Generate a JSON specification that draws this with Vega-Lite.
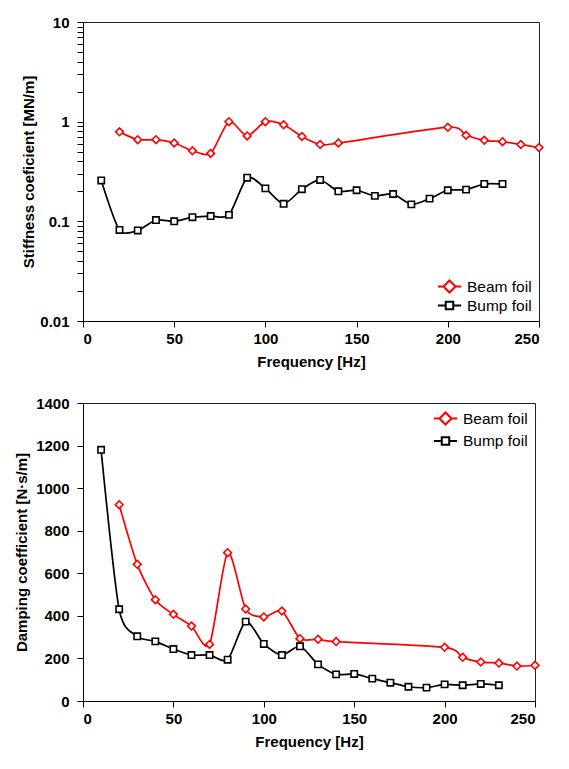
{
  "$schema": "https://vega.github.io/schema/vega-lite/v6.json",
  "padding": {"left": 14, "top": 14, "right": 5, "bottom": 5},
  "background": "white",
  "spacing": 25,
  "datasets": {
    "stiffness": [
      {"f": 20, "v": 0.79, "s": "Beam foil"},
      {"f": 30, "v": 0.66, "s": "Beam foil"},
      {"f": 40, "v": 0.66, "s": "Beam foil"},
      {"f": 50, "v": 0.61, "s": "Beam foil"},
      {"f": 60, "v": 0.51, "s": "Beam foil"},
      {"f": 70, "v": 0.48, "s": "Beam foil"},
      {"f": 80, "v": 1.0, "s": "Beam foil"},
      {"f": 90, "v": 0.72, "s": "Beam foil"},
      {"f": 100, "v": 1.0, "s": "Beam foil"},
      {"f": 110, "v": 0.93, "s": "Beam foil"},
      {"f": 120, "v": 0.71, "s": "Beam foil"},
      {"f": 130, "v": 0.59, "s": "Beam foil"},
      {"f": 140, "v": 0.61, "s": "Beam foil"},
      {"f": 200, "v": 0.88, "s": "Beam foil"},
      {"f": 210, "v": 0.73, "s": "Beam foil"},
      {"f": 220, "v": 0.65, "s": "Beam foil"},
      {"f": 230, "v": 0.63, "s": "Beam foil"},
      {"f": 240, "v": 0.59, "s": "Beam foil"},
      {"f": 250, "v": 0.55, "s": "Beam foil"},
      {"f": 10, "v": 0.257, "s": "Bump foil"},
      {"f": 20, "v": 0.082, "s": "Bump foil"},
      {"f": 30, "v": 0.081, "s": "Bump foil"},
      {"f": 40, "v": 0.103, "s": "Bump foil"},
      {"f": 50, "v": 0.1, "s": "Bump foil"},
      {"f": 60, "v": 0.11, "s": "Bump foil"},
      {"f": 70, "v": 0.113, "s": "Bump foil"},
      {"f": 80, "v": 0.116, "s": "Bump foil"},
      {"f": 90, "v": 0.274, "s": "Bump foil"},
      {"f": 100, "v": 0.214, "s": "Bump foil"},
      {"f": 110, "v": 0.15, "s": "Bump foil"},
      {"f": 120, "v": 0.21, "s": "Bump foil"},
      {"f": 130, "v": 0.26, "s": "Bump foil"},
      {"f": 140, "v": 0.2, "s": "Bump foil"},
      {"f": 150, "v": 0.205, "s": "Bump foil"},
      {"f": 160, "v": 0.18, "s": "Bump foil"},
      {"f": 170, "v": 0.188, "s": "Bump foil"},
      {"f": 180, "v": 0.148, "s": "Bump foil"},
      {"f": 190, "v": 0.169, "s": "Bump foil"},
      {"f": 200, "v": 0.205, "s": "Bump foil"},
      {"f": 210, "v": 0.208, "s": "Bump foil"},
      {"f": 220, "v": 0.237, "s": "Bump foil"},
      {"f": 230, "v": 0.237, "s": "Bump foil"}
    ],
    "damping": [
      {"f": 20, "v": 922, "s": "Beam foil"},
      {"f": 30, "v": 642, "s": "Beam foil"},
      {"f": 40, "v": 476, "s": "Beam foil"},
      {"f": 50, "v": 407, "s": "Beam foil"},
      {"f": 60, "v": 352, "s": "Beam foil"},
      {"f": 70, "v": 266, "s": "Beam foil"},
      {"f": 80, "v": 697, "s": "Beam foil"},
      {"f": 90, "v": 432, "s": "Beam foil"},
      {"f": 100, "v": 395, "s": "Beam foil"},
      {"f": 110, "v": 423, "s": "Beam foil"},
      {"f": 120, "v": 293, "s": "Beam foil"},
      {"f": 130, "v": 290, "s": "Beam foil"},
      {"f": 140, "v": 279, "s": "Beam foil"},
      {"f": 200, "v": 252, "s": "Beam foil"},
      {"f": 210, "v": 205, "s": "Beam foil"},
      {"f": 220, "v": 183, "s": "Beam foil"},
      {"f": 230, "v": 178, "s": "Beam foil"},
      {"f": 240, "v": 164, "s": "Beam foil"},
      {"f": 250, "v": 168, "s": "Beam foil"},
      {"f": 10, "v": 1180, "s": "Bump foil"},
      {"f": 20, "v": 431, "s": "Bump foil"},
      {"f": 30, "v": 304, "s": "Bump foil"},
      {"f": 40, "v": 280, "s": "Bump foil"},
      {"f": 50, "v": 244, "s": "Bump foil"},
      {"f": 60, "v": 216, "s": "Bump foil"},
      {"f": 70, "v": 216, "s": "Bump foil"},
      {"f": 80, "v": 194, "s": "Bump foil"},
      {"f": 90, "v": 373, "s": "Bump foil"},
      {"f": 100, "v": 268, "s": "Bump foil"},
      {"f": 110, "v": 216, "s": "Bump foil"},
      {"f": 120, "v": 257, "s": "Bump foil"},
      {"f": 130, "v": 172, "s": "Bump foil"},
      {"f": 140, "v": 125, "s": "Bump foil"},
      {"f": 150, "v": 127, "s": "Bump foil"},
      {"f": 160, "v": 105, "s": "Bump foil"},
      {"f": 170, "v": 86, "s": "Bump foil"},
      {"f": 180, "v": 67, "s": "Bump foil"},
      {"f": 190, "v": 63, "s": "Bump foil"},
      {"f": 200, "v": 78, "s": "Bump foil"},
      {"f": 210, "v": 74, "s": "Bump foil"},
      {"f": 220, "v": 80, "s": "Bump foil"},
      {"f": 230, "v": 74, "s": "Bump foil"}
    ]
  },
  "vconcat": [
    {
      "width": 456,
      "height": 299,
      "data": {"name": "stiffness"},
      "encoding": {
        "x": {"field": "f", "type": "quantitative", "scale": {"domain": [0, 250], "nice": false},
          "axis": {"values": [0, 50, 100, 150, 200, 250], "title": "Frequency [Hz]"}},
        "y": {"field": "v", "type": "quantitative", "scale": {"type": "log", "domain": [0.01, 10], "nice": false},
          "axis": {"title": "Stiffness coeficient [MN/m]", "titlePadding": 3,
            "values": [0.01, 0.02, 0.03, 0.04, 0.05, 0.06, 0.07, 0.08, 0.09, 0.1, 0.2, 0.3, 0.4, 0.5, 0.6, 0.7, 0.8, 0.9, 1, 2, 3, 4, 5, 6, 7, 8, 9, 10],
            "labelExpr": "datum.value == 0.01 ? '0.01' : datum.value == 0.1 ? '0.1' : datum.value == 1 ? '1' : datum.value == 10 ? '10' : ''"}}
      },
      "layer": [
        {"transform": [{"filter": "datum.s == 'Beam foil'"}],
          "mark": {"type": "line", "color": "#ff0000", "strokeWidth": 1.7, "interpolate": "cardinal", "tension": 0.25}, "encoding": {}},
        {"transform": [{"filter": "datum.s == 'Beam foil'"}],
          "mark": {"type": "point", "shape": "diamond", "size": 60, "filled": true, "fill": "white", "stroke": "#ff0000", "strokeWidth": 1.6, "opacity": 1}},
        {"transform": [{"filter": "datum.s == 'Bump foil'"}],
          "mark": {"type": "line", "color": "#000000", "strokeWidth": 1.7, "interpolate": "cardinal", "tension": 0.25}, "encoding": {}},
        {"transform": [{"filter": "datum.s == 'Bump foil'"}],
          "mark": {"type": "point", "shape": "square", "size": 40, "filled": true, "fill": "white", "stroke": "#000000", "strokeWidth": 1.6, "opacity": 1}},
        {"mark": {"type": "point", "opacity": 0},
          "encoding": {
            "color": {"field": "s", "type": "nominal", "scale": {"domain": ["Beam foil", "Bump foil"], "range": ["#ff0000", "#000000"]},
              "legend": {"title": null, "orient": "bottom-right", "offset": 7, "padding": 0, "rowPadding": 0, "symbolSize": 225, "symbolStrokeWidth": 2, "symbolOpacity": 1, "labelFontSize": 15.5, "labelFont": "Liberation Sans", "labelColor": "#000", "labelOffset": 9}},
            "shape": {"field": "s", "type": "nominal", "scale": {"domain": ["Beam foil", "Bump foil"], "range": ["M-1.55,0H-0.8M0.8,0H1.55M-0.8,0L0,-0.8L0.8,0L0,0.8Z", "M-1.55,0H-0.5M0.5,0H1.55M-0.5,-0.5H0.5V0.5H-0.5Z"]},
              "legend": {"title": null, "orient": "bottom-right", "offset": 7, "padding": 0, "rowPadding": 0, "symbolSize": 225, "symbolStrokeWidth": 2, "symbolOpacity": 1, "labelFontSize": 15.5, "labelFont": "Liberation Sans", "labelColor": "#000", "labelOffset": 9}}
          }}
      ]
    },
    {
      "width": 452,
      "height": 298,
      "data": {"name": "damping"},
      "encoding": {
        "x": {"field": "f", "type": "quantitative", "scale": {"domain": [0, 250], "nice": false},
          "axis": {"values": [0, 50, 100, 150, 200, 250], "title": "Frequency [Hz]"}},
        "y": {"field": "v", "type": "quantitative", "scale": {"domain": [0, 1400], "nice": false},
          "axis": {"title": "Damping coefficient [N·s/m]", "titlePadding": 6, "format": "d",
            "values": [0, 200, 400, 600, 800, 1000, 1200, 1400]}}
      },
      "layer": [
        {"transform": [{"filter": "datum.s == 'Beam foil'"}],
          "mark": {"type": "line", "color": "#ff0000", "strokeWidth": 1.7, "interpolate": "cardinal", "tension": 0.25}, "encoding": {}},
        {"transform": [{"filter": "datum.s == 'Beam foil'"}],
          "mark": {"type": "point", "shape": "diamond", "size": 60, "filled": true, "fill": "white", "stroke": "#ff0000", "strokeWidth": 1.6, "opacity": 1}},
        {"transform": [{"filter": "datum.s == 'Bump foil'"}],
          "mark": {"type": "line", "color": "#000000", "strokeWidth": 1.7, "interpolate": "cardinal", "tension": 0.25}, "encoding": {}},
        {"transform": [{"filter": "datum.s == 'Bump foil'"}],
          "mark": {"type": "point", "shape": "square", "size": 40, "filled": true, "fill": "white", "stroke": "#000000", "strokeWidth": 1.6, "opacity": 1}},
        {"mark": {"type": "point", "opacity": 0},
          "encoding": {
            "color": {"field": "s", "type": "nominal", "scale": {"domain": ["Beam foil", "Bump foil"], "range": ["#ff0000", "#000000"]},
              "legend": {"title": null, "orient": "top-right", "offset": 7, "padding": 0, "rowPadding": 3.5, "symbolSize": 225, "symbolStrokeWidth": 2, "symbolOpacity": 1, "labelFontSize": 15.5, "labelFont": "Liberation Sans", "labelColor": "#000", "labelOffset": 9}},
            "shape": {"field": "s", "type": "nominal", "scale": {"domain": ["Beam foil", "Bump foil"], "range": ["M-1.55,0H-0.8M0.8,0H1.55M-0.8,0L0,-0.8L0.8,0L0,0.8Z", "M-1.55,0H-0.5M0.5,0H1.55M-0.5,-0.5H0.5V0.5H-0.5Z"]},
              "legend": {"title": null, "orient": "top-right", "offset": 7, "padding": 0, "rowPadding": 3.5, "symbolSize": 225, "symbolStrokeWidth": 2, "symbolOpacity": 1, "labelFontSize": 15.5, "labelFont": "Liberation Sans", "labelColor": "#000", "labelOffset": 9}}
          }}
      ]
    }
  ],
  "config": {
    "view": {"stroke": "#222222", "strokeWidth": 1},
    "axis": {
      "grid": false,
      "domainColor": "#000000",
      "domainWidth": 1,
      "tickColor": "#000000",
      "tickSize": 6,
      "labelFont": "Liberation Sans",
      "labelFontWeight": "bold",
      "labelFontSize": 15,
      "labelColor": "#000000",
      "titleFont": "Liberation Sans",
      "titleFontWeight": "bold",
      "titleFontSize": 15,
      "titleColor": "#000000"
    },
    "axisX": {"labelPadding": 4, "titlePadding": 8},
    "axisY": {"labelPadding": 8}
  }
}
